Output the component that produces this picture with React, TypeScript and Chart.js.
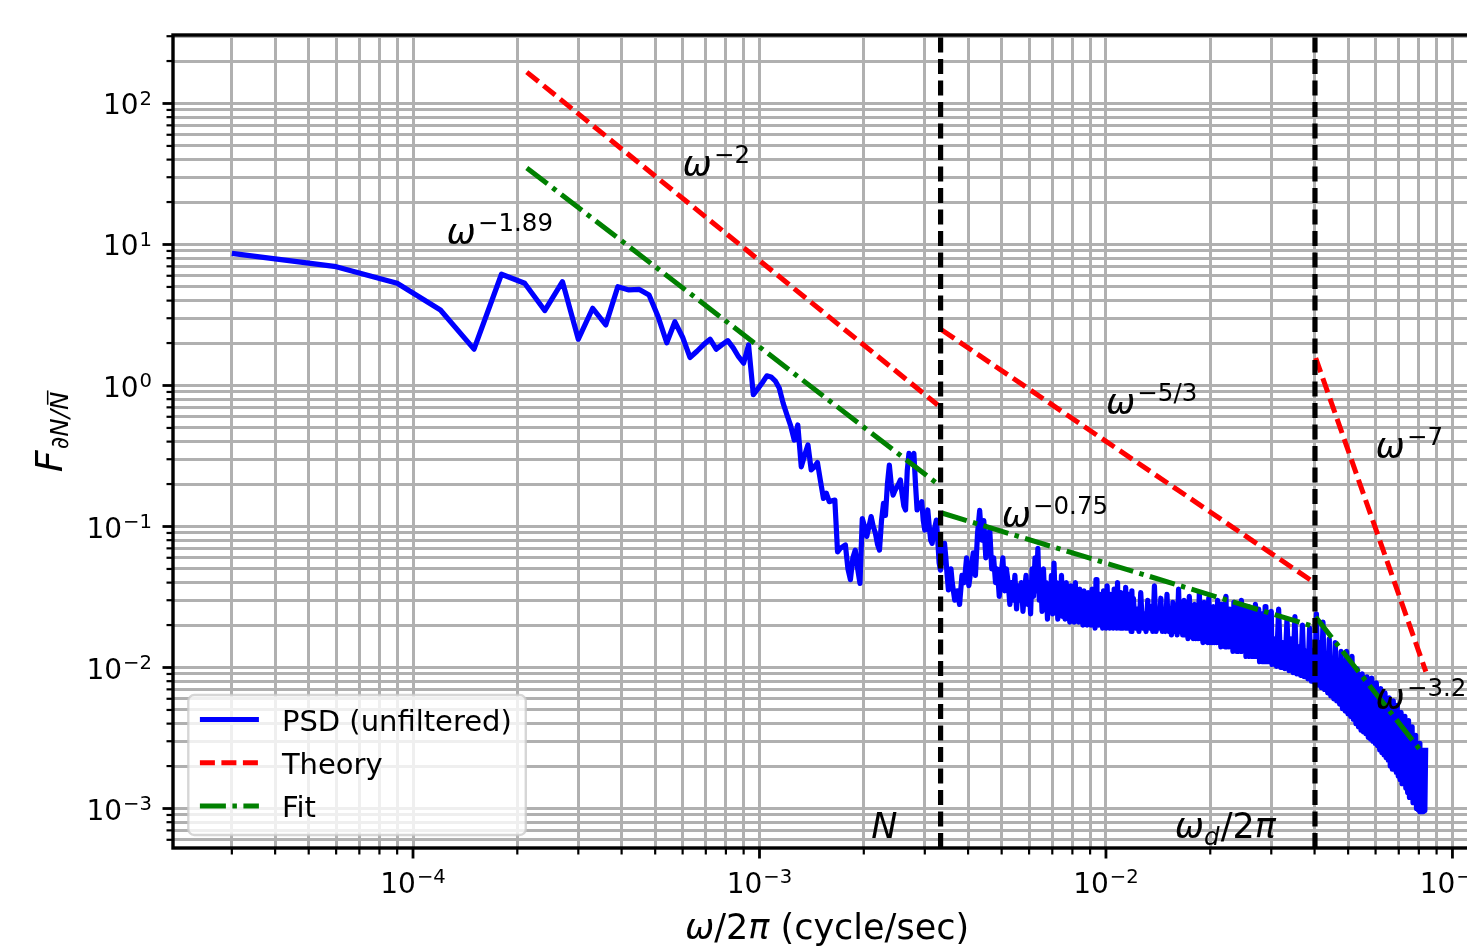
import React, { useEffect, useRef } from "react";
import { Chart, registerables } from "chart.js";

Chart.register(...registerables);

// ---------------- data ----------------
const BIN_WIDTH = 3.0e-5; // cycle/sec per FFT bin

// PSD values, bins 1..120 (every bin)
const psdLow = [
  8.66, 6.96, 5.31, 3.43, 1.81, 6.15, 5.31, 3.40, 5.45, 2.13,
  3.53, 2.69, 5.02, 4.76, 4.80, 4.38, 3.07, 2.01, 2.83, 2.20,
  1.58, 1.75, 1.95, 2.13, 1.81, 1.95, 2.08, 1.85, 1.60, 1.44,
  1.94, 0.86, 0.95, 1.05, 1.17, 1.15, 1.08, 0.96, 0.75, 0.62,
  0.52, 0.41, 0.525, 0.265, 0.32, 0.379, 0.252, 0.265, 0.284, 0.21,
  0.158, 0.172, 0.150, 0.152, 0.154, 0.066, 0.070, 0.072, 0.074, 0.050,
  0.042, 0.060, 0.068, 0.050, 0.0395, 0.114, 0.100, 0.085, 0.100, 0.1175,
  0.100, 0.090, 0.075, 0.068, 0.110, 0.146, 0.120, 0.200, 0.273, 0.200,
  0.167, 0.180, 0.190, 0.200, 0.214, 0.170, 0.140, 0.131, 0.250, 0.330,
  0.300, 0.310, 0.330, 0.200, 0.131, 0.140, 0.145, 0.150, 0.110, 0.0944,
  0.110, 0.131, 0.100, 0.080, 0.076, 0.090, 0.100, 0.111, 0.080, 0.055,
  0.049, 0.060, 0.070, 0.076, 0.060, 0.045, 0.0355, 0.040, 0.050, 0.040,
];

// bins 122..400, every 2nd bin
const psdMid = [
  0.030, 0.035, 0.028, 0.045, 0.040, 0.060, 0.038, 0.050, 0.065, 0.045,
  0.090, 0.130, 0.080, 0.110, 0.060, 0.075, 0.094, 0.050, 0.060, 0.040,
  0.050, 0.032, 0.045, 0.060, 0.035, 0.050, 0.040, 0.028, 0.040, 0.030,
  0.045, 0.026, 0.038, 0.030, 0.040, 0.025, 0.035, 0.045, 0.028, 0.040,
  0.024, 0.050, 0.032, 0.060, 0.035, 0.070, 0.030, 0.045, 0.025, 0.050,
  0.030, 0.040, 0.022, 0.038, 0.026, 0.045, 0.024, 0.055, 0.028, 0.040,
  0.022, 0.036, 0.025, 0.045, 0.023, 0.035, 0.022, 0.040, 0.025, 0.033,
  0.021, 0.038, 0.024, 0.034, 0.021, 0.040, 0.023, 0.032, 0.021, 0.036,
  0.022, 0.030, 0.020, 0.035, 0.022, 0.030, 0.020, 0.034, 0.021, 0.032,
  0.020, 0.036, 0.021, 0.031, 0.019, 0.042, 0.022, 0.030, 0.020, 0.033,
  0.021, 0.029, 0.019, 0.035, 0.020, 0.031, 0.019, 0.038, 0.021, 0.030,
  0.019, 0.033, 0.020, 0.029, 0.019, 0.036, 0.020, 0.031, 0.019, 0.040,
  0.020, 0.030, 0.019, 0.034, 0.020, 0.029, 0.019, 0.032, 0.020, 0.037,
  0.019, 0.030, 0.019, 0.033, 0.020, 0.029, 0.018, 0.035, 0.019, 0.031,
];

// bins 405..1000, every 5th bin
const psdHigh = [
  0.019, 0.026, 0.018, 0.034, 0.019, 0.024, 0.018, 0.030, 0.019, 0.027,
  0.018, 0.038, 0.018, 0.025, 0.019, 0.031, 0.018, 0.024, 0.018, 0.033,
  0.018, 0.026, 0.017, 0.029, 0.018, 0.023, 0.017, 0.036, 0.018, 0.025,
  0.017, 0.030, 0.017, 0.023, 0.016, 0.032, 0.017, 0.024, 0.016, 0.028,
  0.016, 0.022, 0.016, 0.034, 0.016, 0.023, 0.015, 0.029, 0.016, 0.022,
  0.015, 0.031, 0.015, 0.022, 0.015, 0.027, 0.015, 0.021, 0.015, 0.030,
  0.015, 0.022, 0.014, 0.028, 0.015, 0.021, 0.014, 0.032, 0.014, 0.021,
  0.014, 0.026, 0.014, 0.020, 0.013, 0.029, 0.014, 0.020, 0.013, 0.027,
  0.013, 0.020, 0.013, 0.030, 0.013, 0.019, 0.013, 0.026, 0.012, 0.019,
  0.013, 0.027, 0.012, 0.019, 0.012, 0.025, 0.012, 0.018, 0.012, 0.028,
  0.012, 0.018, 0.012, 0.026, 0.011, 0.018, 0.012, 0.024, 0.011, 0.017,
  0.011, 0.027, 0.011, 0.017, 0.011, 0.024, 0.011, 0.017, 0.011, 0.025,
];

// bins 1005..2790, every 15th bin
const psdTail = [
  0.0105, 0.016, 0.0102, 0.026, 0.010, 0.015, 0.0098, 0.022, 0.0095, 0.016,
  0.0092, 0.023, 0.009, 0.014, 0.0088, 0.020, 0.0086, 0.013, 0.0083, 0.019,
  0.008, 0.013, 0.0078, 0.024, 0.0075, 0.015, 0.0072, 0.021, 0.007, 0.012,
  0.0066, 0.016, 0.0063, 0.0105, 0.006, 0.015, 0.0058, 0.0095, 0.0055, 0.013,
  0.0051, 0.008, 0.0049, 0.013, 0.0047, 0.0078, 0.0045, 0.012, 0.0043, 0.0075,
  0.0040, 0.0098, 0.0038, 0.0062, 0.0036, 0.009, 0.0035, 0.0058, 0.0034, 0.0086,
  0.0032, 0.0054, 0.0031, 0.0084, 0.0030, 0.0050, 0.0029, 0.0078, 0.0028, 0.0048,
  0.0026, 0.0071, 0.0025, 0.0044, 0.0024, 0.0066, 0.0023, 0.0040, 0.0022, 0.0061,
  0.0020, 0.0036, 0.0019, 0.0058, 0.0019, 0.0033, 0.0018, 0.0054, 0.0017, 0.0031,
  0.0016, 0.0048, 0.0015, 0.0028, 0.0015, 0.0045, 0.0014, 0.0026, 0.0013, 0.0042,
  0.0012, 0.0022, 0.0012, 0.0038, 0.0011, 0.0020, 0.0011, 0.0033, 0.0010, 0.0018,
  0.00098, 0.0029, 0.00095, 0.0016, 0.00095, 0.0026, 0.00095, 0.0015, 0.00097, 0.0027,
];

const psdFirstBin = [1, 122, 405, 1005];
const psdBinStep = [1, 2, 5, 15];
const psdParts = [psdLow, psdMid, psdHigh, psdTail];

// Theory (red dashed) and fit (green dash-dot) power-law segments
const theoryFreq = [[2.13e-4, 3.27e-3], [3.36e-3, 3.93e-2], [4.03e-2, 8.38e-2]];
const theoryValue = [[167, 0.728], [2.475, 0.0411], [1.567, 0.00935]];
const fitFreq = [[2.13e-4, 3.27e-3], [3.36e-3, 3.93e-2], [4.03e-2, 8.17e-2]];
const fitValue = [[34.9, 0.2], [0.1247, 0.0197], [0.0228, 0.0025]];

// vertical markers: N and omega_d / 2pi
const markerFreq = [3.332e-3, 4.011e-2];

// slope labels
const slopeFreq = [1.25e-4, 6.0e-4, 1.0e-2, 5.0e-3, 6.0e-2, 6.0e-2];
const slopeValue = [10.1, 30.6, 0.63, 0.1, 0.307, 0.0051];
const slopeExp = ["\u22121.89", "\u22122", "\u22125/3", "\u22120.75", "\u22127", "\u22123.2"];

// marker labels (left / baseline in data coords)
const markerLabelFreq = [2.1e-3, 1.58e-2];
const markerLabelValue = [6.2e-4, 6.2e-4];

const legendLabels = ["PSD (unfiltered)", "Theory", "Fit"];
const xTickExp = [-4, -3, -2, -1];
const yTickExp = [-3, -2, -1, 0, 1, 2];

const X_MIN = 2.029e-5;
const X_MAX = 0.1209;
const Y_MIN = 5.248e-4;
const Y_MAX = 306;

// ---------------- helpers ----------------
const FAMILY = '"DejaVu Sans", sans-serif';
const fnt = (size: number, italic = false) => `${italic ? "italic " : ""}${size}px ${FAMILY}`;

type Run = { t: string; size: number; italic?: boolean; dy?: number; gap?: number; over?: boolean };

function runsWidth(ctx: CanvasRenderingContext2D, runs: Run[]) {
  let w = 0;
  for (const r of runs) {
    ctx.font = fnt(r.size, r.italic);
    w += (r.gap || 0) + ctx.measureText(r.t).width;
  }
  return w;
}

function drawRuns(ctx: CanvasRenderingContext2D, runs: Run[], x: number, y: number, align: "left" | "center" | "right") {
  const total = runsWidth(ctx, runs);
  let cx = align === "center" ? x - total / 2 : align === "right" ? x - total : x;
  ctx.textAlign = "left";
  ctx.textBaseline = "alphabetic";
  for (const r of runs) {
    cx += r.gap || 0;
    ctx.font = fnt(r.size, r.italic);
    const w = ctx.measureText(r.t).width;
    const by = y + (r.dy || 0);
    ctx.fillText(r.t, cx, by);
    if (r.over) {
      ctx.fillRect(cx + 0.22 * r.size, by - 0.86 * r.size, w * 0.78, Math.max(1.5, r.size * 0.06));
    }
    cx += w;
  }
}

function logTicks(min: number, max: number) {
  const ticks: { value: number; major: boolean }[] = [];
  const e0 = Math.floor(Math.log10(min));
  const e1 = Math.ceil(Math.log10(max));
  for (let e = e0; e <= e1; e++) {
    for (let m = 1; m <= 9; m++) {
      const v = m * Math.pow(10, e);
      if (v >= min && v <= max) ticks.push({ value: v, major: m === 1 });
    }
  }
  return ticks;
}

function segmentsToPoints(freqs: number[][], vals: number[][]) {
  const pts: { x: number; y: number | null }[] = [];
  freqs.forEach((seg, i) => {
    if (i > 0) pts.push({ x: seg[0], y: null });
    seg.forEach((f, j) => pts.push({ x: f, y: vals[i][j] }));
  });
  return pts;
}

function psdPoints() {
  const pts: { x: number; y: number }[] = [];
  psdParts.forEach((vals, p) => {
    vals.forEach((v, i) => {
      pts.push({ x: (psdFirstBin[p] + psdBinStep[p] * i) * BIN_WIDTH, y: v });
    });
  });
  return pts;
}

const expText = (e: number) => String(e).replace("-", "\u2212");

const decorPlugin = {
  id: "decor",
  afterDraw(chart: any) {
    const ctx: CanvasRenderingContext2D = chart.ctx;
    const ca = chart.chartArea;
    const xs = chart.scales.x;
    const ys = chart.scales.y;
    ctx.save();
    ctx.fillStyle = "#000";

    // slope annotations
    slopeFreq.forEach((f, i) => {
      const px = xs.getPixelForValue(f);
      const py = ys.getPixelForValue(slopeValue[i]);
      drawRuns(ctx, [
        { t: "\u03c9", size: 35, italic: true },
        { t: slopeExp[i], size: 24.5, dy: -13, gap: 2 },
      ], px, py, "left");
    });

    // marker labels
    {
      const px = xs.getPixelForValue(markerLabelFreq[0]);
      const py = ys.getPixelForValue(markerLabelValue[0]);
      drawRuns(ctx, [{ t: "N", size: 35, italic: true }], px, py, "left");
      const qx = xs.getPixelForValue(markerLabelFreq[1]);
      const qy = ys.getPixelForValue(markerLabelValue[1]);
      drawRuns(ctx, [
        { t: "\u03c9", size: 35, italic: true },
        { t: "d", size: 24.5, italic: true, dy: 7, gap: 0 },
        { t: "/2", size: 35, gap: 1 },
        { t: "\u03c0", size: 35, italic: true },
      ], qx, qy, "left");
    }

    // spines
    ctx.strokeStyle = "#000";
    ctx.setLineDash([]);
    ctx.lineWidth = 3.4;
    ctx.strokeRect(ca.left, ca.top, ca.right - ca.left, ca.bottom - ca.top);

    // tick marks
    const isMajor = (v: number) => Math.abs(Math.log10(v) - Math.round(Math.log10(v))) < 1e-9;
    for (const t of xs.ticks) {
      const px = xs.getPixelForValue(t.value);
      const maj = isMajor(t.value);
      ctx.lineWidth = maj ? 2.8 : 2.2;
      ctx.beginPath();
      ctx.moveTo(px, ca.bottom);
      ctx.lineTo(px, ca.bottom + (maj ? 10.5 : 6.5));
      ctx.stroke();
    }
    for (const t of ys.ticks) {
      const py = ys.getPixelForValue(t.value);
      const maj = isMajor(t.value);
      ctx.lineWidth = maj ? 2.8 : 2.2;
      ctx.beginPath();
      ctx.moveTo(ca.left, py);
      ctx.lineTo(ca.left - (maj ? 10.5 : 6.5), py);
      ctx.stroke();
    }

    // tick labels
    for (const e of xTickExp) {
      const px = xs.getPixelForValue(Math.pow(10, e));
      drawRuns(ctx, [
        { t: "10", size: 28 },
        { t: expText(e), size: 19.6, dy: -9.3, gap: 1 },
      ], px, ca.bottom + 44.7, "center");
    }
    for (const e of yTickExp) {
      const py = ys.getPixelForValue(Math.pow(10, e));
      drawRuns(ctx, [
        { t: "10", size: 28 },
        { t: expText(e), size: 19.6, dy: -9.3, gap: 1 },
      ], ca.left - 21, py + 11, "right");
    }

    // x title
    drawRuns(ctx, [
      { t: "\u03c9", size: 35, italic: true },
      { t: "/2", size: 35 },
      { t: "\u03c0", size: 35, italic: true },
      { t: " (cycle/sec)", size: 35 },
    ], (ca.left + ca.right) / 2, ca.bottom + 91, "center");

    // y title (rotated)
    ctx.save();
    ctx.translate(62, 432);
    ctx.rotate(-Math.PI / 2);
    drawRuns(ctx, [
      { t: "F", size: 38, italic: true },
      { t: "\u2202N/", size: 24.5, italic: true, dy: 6, gap: 1 },
      { t: "N", size: 24.5, italic: true, dy: 6, over: true },
    ], 0, 0, "center");
    ctx.restore();

    // legend
    const ds = chart.data.datasets;
    const lfs = 29;
    ctx.font = fnt(lfs);
    let maxW = 0;
    legendLabels.forEach((l) => { maxW = Math.max(maxW, ctx.measureText(l).width); });
    const bx = ca.left + 15.3;
    const bw = 11.6 + 59 + 23 + maxW + 14;
    const bh = 140;
    const by = ca.bottom - 13 - bh;
    ctx.beginPath();
    ctx.roundRect(bx, by, bw, bh, 6);
    ctx.fillStyle = "rgba(255,255,255,0.8)";
    ctx.fill();
    ctx.strokeStyle = "rgba(204,204,204,0.8)";
    ctx.lineWidth = 2.4;
    ctx.stroke();
    legendLabels.forEach((label, i) => {
      const cy = by + 24.5 + i * 43.3;
      const d = ds[i];
      ctx.strokeStyle = d.borderColor;
      ctx.lineWidth = d.borderWidth;
      ctx.setLineDash(d.borderDash || []);
      ctx.lineCap = "butt";
      ctx.beginPath();
      ctx.moveTo(bx + 11.6, cy);
      ctx.lineTo(bx + 11.6 + 59, cy);
      ctx.stroke();
      ctx.setLineDash([]);
      ctx.fillStyle = "#000";
      ctx.font = fnt(lfs);
      ctx.textAlign = "left";
      ctx.textBaseline = "alphabetic";
      ctx.fillText(label, bx + 11.6 + 59 + 23, cy + 11);
    });

    ctx.restore();
  },
};

export default function App() {
  const canvasRef = useRef<HTMLCanvasElement | null>(null);

  useEffect(() => {
    const canvas = canvasRef.current;
    if (!canvas) return;
    const LW = 5;
    const chart = new Chart(canvas, {
      type: "line",
      data: {
        datasets: [
          {
            label: legendLabels[0],
            data: psdPoints() as any,
            borderColor: "#0000ff",
            borderWidth: 5.2,
            pointRadius: 0,
            tension: 0,
            borderJoinStyle: "round",
            order: 4,
          },
          {
            label: legendLabels[1],
            data: segmentsToPoints(theoryFreq, theoryValue) as any,
            borderColor: "#ff0000",
            borderWidth: LW,
            borderDash: [15, 6.5],
            pointRadius: 0,
            tension: 0,
            spanGaps: false,
            order: 3,
          },
          {
            label: legendLabels[2],
            data: segmentsToPoints(fitFreq, fitValue) as any,
            borderColor: "#008000",
            borderWidth: LW,
            borderDash: [26, 6.5, 4.5, 6.5],
            pointRadius: 0,
            tension: 0,
            spanGaps: false,
            order: 2,
          },
          ...markerFreq.map((f) => ({
            label: "",
            data: [{ x: f, y: Y_MIN }, { x: f, y: Y_MAX }] as any,
            borderColor: "#000000",
            borderWidth: 5.2,
            borderDash: [15, 6.5],
            pointRadius: 0,
            tension: 0,
            clip: 0,
            order: 1,
          })),
        ],
      },
      options: {
        animation: false,
        responsive: false,
        devicePixelRatio: 1,
        events: [],
        layout: { padding: { left: 0, right: 19, top: 35, bottom: 0 } },
        plugins: { legend: { display: false }, tooltip: { enabled: false } },
        scales: {
          x: {
            type: "logarithmic",
            min: X_MIN,
            max: X_MAX,
            afterBuildTicks: (s: any) => { s.ticks = logTicks(s.min, s.max); },
            afterFit: (s: any) => { s.height = 102; },
            ticks: { display: false },
            grid: { color: "#b0b0b0", lineWidth: 3, drawTicks: false },
            border: { display: false },
          },
          y: {
            type: "logarithmic",
            min: Y_MIN,
            max: Y_MAX,
            afterBuildTicks: (s: any) => { s.ticks = logTicks(s.min, s.max); },
            afterFit: (s: any) => { s.width = 173; },
            ticks: { display: false },
            grid: { color: "#b0b0b0", lineWidth: 3, drawTicks: false },
            border: { display: false },
          },
        },
      } as any,
      plugins: [decorPlugin],
    });
    return () => chart.destroy();
  }, []);

  return (
    <div
      style={{
        position: "absolute",
        left: 0,
        top: 0,
        width: 1467,
        height: 950,
        overflow: "hidden",
        background: "#fff",
      }}
    >
      <canvas ref={canvasRef} width={1500} height={950} style={{ display: "block", width: 1500, height: 950 }} />
    </div>
  );
}
